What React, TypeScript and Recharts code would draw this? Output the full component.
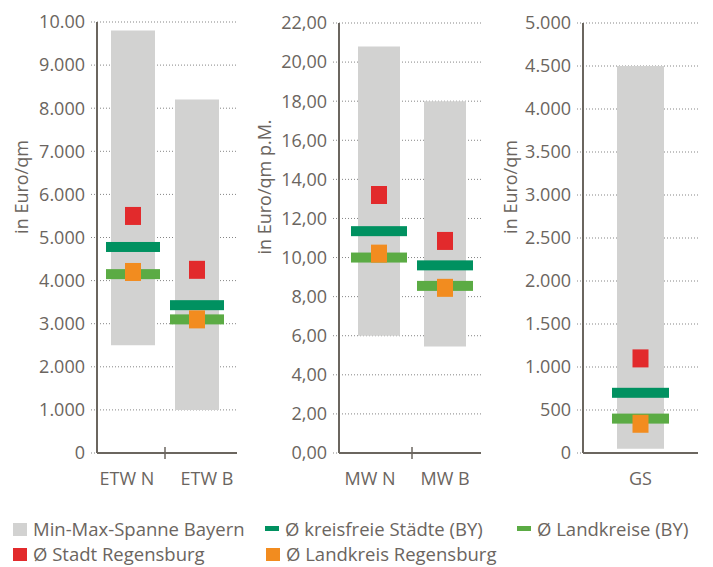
import React from 'react';
import { ComposedChart, Bar, Scatter, XAxis, YAxis, CartesianGrid } from 'recharts';

// Eigentumswohnungen (Euro/qm)
const etwCategories = ['ETW N', 'ETW B'];
const etwMin = [2500, 1000];
const etwMax = [9800, 8200];
const etwKreisfrei = [4780, 3430];
const etwLandkreise = [4150, 3100];
const etwStadtRgb = [5500, 4250];
const etwLandkreisRgb = [4200, 3100];
const etwTicks = [0, 1000, 2000, 3000, 4000, 5000, 6000, 7000, 8000, 9000, 10000];
const etwTickLabels = ['0', '1.000', '2.000', '3.000', '4.000', '5.000', '6.000', '7.000', '8.000', '9.000', '10.00'];

// Mietwohnungen (Euro/qm p.M.)
const mwCategories = ['MW N', 'MW B'];
const mwMin = [6.0, 5.45];
const mwMax = [20.8, 18.0];
const mwKreisfrei = [11.35, 9.6];
const mwLandkreise = [10.0, 8.55];
const mwStadtRgb = [13.2, 10.85];
const mwLandkreisRgb = [10.2, 8.45];
const mwTicks = [0, 2, 4, 6, 8, 10, 12, 14, 16, 18, 20, 22];
const mwTickLabels = ['0,00', '2,00', '4,00', '6,00', '8,00', '10,00', '12,00', '14,00', '16,00', '18,00', '20,00', '22,00'];

// Grundstücke (Euro/qm)
const gsCategories = ['GS'];
const gsMin = [50];
const gsMax = [4500];
const gsKreisfrei = [700];
const gsLandkreise = [400];
const gsStadtRgb = [1100];
const gsLandkreisRgb = [340];
const gsTicks = [0, 500, 1000, 1500, 2000, 2500, 3000, 3500, 4000, 4500, 5000];
const gsTickLabels = ['0', '500', '1.000', '1.500', '2.000', '2.500', '3.000', '3.500', '4.000', '4.500', '5.000'];

const legendItems = [
  { label: 'Min-Max-Spanne Bayern', color: '#d2d2d1', kind: 'square' },
  { label: 'Ø kreisfreie Städte (BY)', color: '#009160', kind: 'bar' },
  { label: 'Ø Landkreise (BY)', color: '#5bab44', kind: 'bar' },
  { label: 'Ø Stadt Regensburg', color: '#e22a2c', kind: 'square' },
  { label: 'Ø Landkreis Regensburg', color: '#f28c1f', kind: 'square' },
];

const FONT = '"Open Sans", sans-serif';
const TEXT = '#6b6560';
const AXIS = '#6b665f';
const GRID = '#858585';
const C_RANGE = '#d2d2d1';
const C_KF = '#009160';
const C_LK = '#5bab44';
const C_ST = '#e22a2c';
const C_LR = '#f28c1f';

const marker = (w: number, h: number, color: string) => (props: any) => {
  const { cx, cy } = props;
  if (cx == null || cy == null) return <g />;
  return <rect x={cx - w / 2} y={cy - h / 2} width={w} height={h} fill={color} />;
};

interface PanelProps {
  left: number;
  width: number;
  top: number;
  yAxisWidth: number;
  marginRight: number;
  padLeft: number;
  padRight: number;
  labelShift: number[];
  barSize: number;
  lineWidth: number;
  categories: string[];
  min: number[];
  max: number[];
  kf: number[];
  lk: number[];
  st: number[];
  lr: number[];
  ticks: number[];
  tickLabels: string[];
  yLabel: string;
  yLabelX: number;
}

const HEIGHT = 500;
const BOTTOM = 47;

const Panel = (p: PanelProps) => {
  const data = p.categories.map((c, i) => ({
    cat: c,
    range: [p.min[i], p.max[i]],
    kf: p.kf[i],
    lk: p.lk[i],
    st: p.st[i],
    lr: p.lr[i],
  }));
  const plotWidth = p.width - p.yAxisWidth - p.marginRight - p.padLeft - p.padRight;
  const halfBand = plotWidth / p.categories.length / 2;

  const XTick = (props: any) => {
    const { x, y, payload, index } = props;
    return (
      <g>
        <text
          x={x + (p.labelShift[index] || 0)}
          y={y + 32}
          textAnchor="middle"
          fill={TEXT}
          fontSize={18}
          fontFamily={FONT}
        >
          {payload.value}
        </text>
        {index > 0 && (
          <line x1={x - halfBand} x2={x - halfBand} y1={y - 6} y2={y + 6} stroke={AXIS} strokeWidth={1.5} />
        )}
      </g>
    );
  };

  const yLabelContent = () => (
    <text
      x={p.yLabelX}
      y={187}
      transform={`rotate(-90 ${p.yLabelX} 187)`}
      textAnchor="middle"
      dominantBaseline="central"
      fill={TEXT}
      fontSize={18}
      fontFamily={FONT}
    >
      {p.yLabel}
    </text>
  );

  return (
    <div style={{ position: 'absolute', left: p.left, top: 0 }}>
      <ComposedChart
        width={p.width}
        height={HEIGHT}
        data={data}
        margin={{ top: p.top, right: p.marginRight, left: 0, bottom: BOTTOM - 30 }}
      >
        <CartesianGrid vertical={false} stroke={GRID} strokeDasharray="1 2" />
        <XAxis
          dataKey="cat"
          height={30}
          padding={{ left: p.padLeft, right: p.padRight }}
          axisLine={{ stroke: AXIS, strokeWidth: 2 }}
          tickLine={false}
          tickSize={0}
          tickMargin={0}
          tick={<XTick />}
          interval={0}
        />
        <YAxis
          type="number"
          width={p.yAxisWidth}
          domain={[p.ticks[0], p.ticks[p.ticks.length - 1]]}
          ticks={p.ticks}
          interval={0}
          tickFormatter={(v: number) => p.tickLabels[p.ticks.indexOf(v)]}
          axisLine={{ stroke: AXIS, strokeWidth: 2 }}
          tickLine={{ stroke: GRID, strokeDasharray: '1 2' }}
          tickSize={6}
          tickMargin={6}
          tick={{ fill: TEXT, fontSize: 18, fontFamily: FONT }}
          label={{ content: yLabelContent }}
        />
        <Bar dataKey="range" fill={C_RANGE} barSize={p.barSize} isAnimationActive={false} />
        <Scatter dataKey="kf" shape={marker(p.lineWidth, 10, C_KF)} isAnimationActive={false} />
        <Scatter dataKey="lk" shape={marker(p.lineWidth, 10, C_LK)} isAnimationActive={false} />
        <Scatter dataKey="st" shape={marker(16, 18, C_ST)} isAnimationActive={false} />
        <Scatter dataKey="lr" shape={marker(16, 18, C_LR)} isAnimationActive={false} />
      </ComposedChart>
    </div>
  );
};

const Legend = () => {
  const pos = [
    { x: 13, y: 536 },
    { x: 265, y: 536 },
    { x: 517, y: 536 },
    { x: 13, y: 561 },
    { x: 266, y: 561 },
  ];
  return (
    <svg width={713} height={567} style={{ position: 'absolute', left: 0, top: 0, pointerEvents: 'none' }}>
      {legendItems.map((item, i) => {
        const { x, y } = pos[i];
        return (
          <g key={item.label}>
            {item.kind === 'square' ? (
              <rect x={x} y={y - 13} width={14} height={13} fill={item.color} />
            ) : (
              <rect x={x} y={y - 10} width={14} height={5} fill={item.color} />
            )}
            <text x={x + 20} y={y} fill={TEXT} fontSize={18.5} fontFamily={FONT}>
              {item.label}
            </text>
          </g>
        );
      })}
    </svg>
  );
};

export default function App() {
  return (
    <div style={{ position: 'absolute', left: 0, top: 0, width: 713, height: 567, background: '#fff', overflow: 'hidden' }}>
      <Panel
        left={0}
        width={240}
        top={22}
        yAxisWidth={97}
        marginRight={3}
        padLeft={4}
        padRight={8}
        labelShift={[-6, 10]}
        barSize={44}
        lineWidth={54}
        categories={etwCategories}
        min={etwMin}
        max={etwMax}
        kf={etwKreisfrei}
        lk={etwLandkreise}
        st={etwStadtRgb}
        lr={etwLandkreisRgb}
        ticks={etwTicks}
        tickLabels={etwTickLabels}
        yLabel="in Euro/qm"
        yLabelX={21}
      />
      <Panel
        left={240}
        width={242}
        top={23}
        yAxisWidth={99}
        marginRight={1}
        padLeft={7}
        padRight={3}
        labelShift={[-9, 0]}
        barSize={42}
        lineWidth={56}
        categories={mwCategories}
        min={mwMin}
        max={mwMax}
        kf={mwKreisfrei}
        lk={mwLandkreise}
        st={mwStadtRgb}
        lr={mwLandkreisRgb}
        ticks={mwTicks}
        tickLabels={mwTickLabels}
        yLabel="in Euro/qm p.M."
        yLabelX={24}
      />
      <Panel
        left={480}
        width={233}
        top={23}
        yAxisWidth={103}
        marginRight={15}
        padLeft={0}
        padRight={0}
        labelShift={[0]}
        barSize={47}
        lineWidth={57}
        categories={gsCategories}
        min={gsMin}
        max={gsMax}
        kf={gsKreisfrei}
        lk={gsLandkreise}
        st={gsStadtRgb}
        lr={gsLandkreisRgb}
        ticks={gsTicks}
        tickLabels={gsTickLabels}
        yLabel="in Euro/qm"
        yLabelX={30}
      />
      <Legend />
    </div>
  );
}
